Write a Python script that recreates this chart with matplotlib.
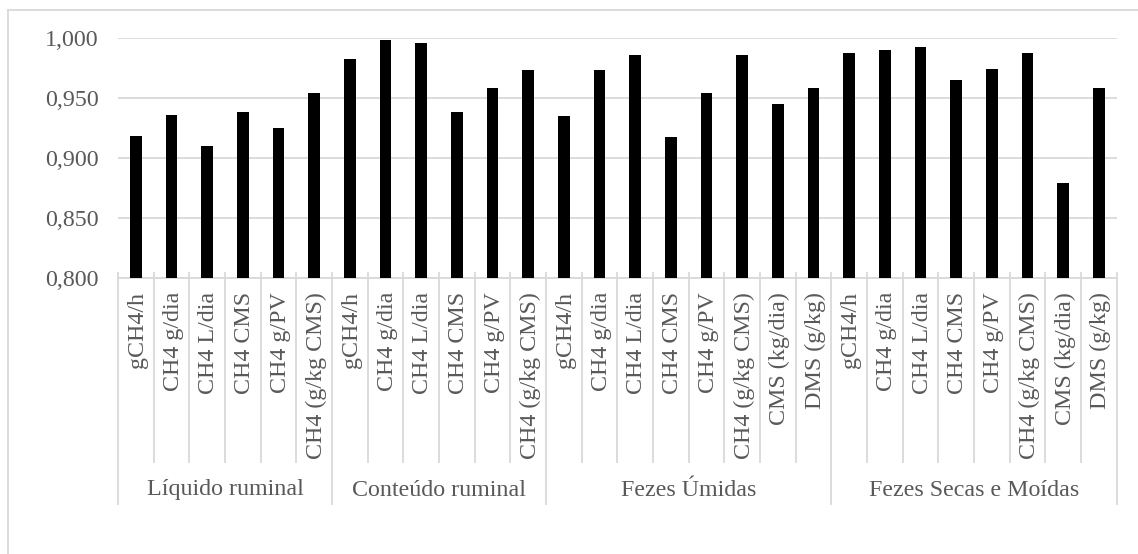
import numpy as np
import matplotlib
matplotlib.use("Agg")
import matplotlib.pyplot as plt
from matplotlib.lines import Line2D
from matplotlib.transforms import blended_transform_factory

groups = ["Líquido ruminal", "Conteúdo ruminal", "Fezes Úmidas", "Fezes Secas e Moídas"]
group_sizes = [6, 6, 8, 8]

labels = ["gCH4/h", "CH4 g/dia", "CH4 L/dia", "CH4 CMS", "CH4 g/PV", "CH4 (g/kg CMS)",
          "gCH4/h", "CH4 g/dia", "CH4 L/dia", "CH4 CMS", "CH4 g/PV", "CH4 (g/kg CMS)",
          "gCH4/h", "CH4 g/dia", "CH4 L/dia", "CH4 CMS", "CH4 g/PV", "CH4 (g/kg CMS)",
          "CMS (kg/dia)", "DMS (g/kg)",
          "gCH4/h", "CH4 g/dia", "CH4 L/dia", "CH4 CMS", "CH4 g/PV", "CH4 (g/kg CMS)",
          "CMS (kg/dia)", "DMS (g/kg)"]

values = [0.918, 0.936, 0.910, 0.938, 0.925, 0.954,
          0.982, 0.998, 0.996, 0.938, 0.958, 0.973,
          0.935, 0.973, 0.986, 0.917, 0.954, 0.986, 0.945, 0.958,
          0.987, 0.990, 0.992, 0.965, 0.974, 0.987, 0.879, 0.958]

yticks = [0.800, 0.850, 0.900, 0.950, 1.000]

W, H = 1138, 554
grey_txt = "#595959"
grey_line = "#d9d9d9"
fs = 17.3
plt.rcParams['font.family'] = ['Liberation Serif', 'DejaVu Serif']

fig = plt.figure(figsize=(W / 100, H / 100), dpi=100)
ax = fig.add_axes([118 / W, 1 - 278 / H, (1116.7 - 118) / W, (278 - 37.7) / H])

x = np.arange(len(values))
ax.bar(x, np.array(values) - 0.8, bottom=0.8, width=0.33, color="black", zorder=3)

ax.set_xlim(-0.5, len(values) - 0.5)
ax.set_ylim(0.8, 1.0)
ax.set_yticks(yticks)
ax.set_yticklabels([f"{v:.3f}".replace(".", ",") for v in yticks], color=grey_txt, fontsize=fs)
ax.tick_params(axis="y", length=0, pad=14)
ax.set_xticks([])
ax.grid(axis="y", color=grey_line, linewidth=1.3, zorder=0)
for s in ["top", "right", "left"]:
    ax.spines[s].set_visible(False)
ax.spines["bottom"].set_color(grey_line)
ax.spines["bottom"].set_linewidth(1.3)

tr = blended_transform_factory(ax.transData, fig.transFigure)
def fy(py):
    return 1 - py / H

# category boundary lines
starts = np.cumsum([0] + group_sizes)
for b in range(len(values) + 1):
    bottom = 504.3 if b in starts else 461.7
    ax.add_line(Line2D([b - 0.5, b - 0.5], [fy(272.7), fy(bottom)], transform=tr,
                       color=grey_line, linewidth=1.3, clip_on=False))

# rotated category labels
for i, lab in enumerate(labels):
    ax.text(i + 0.05, fy(292), lab, rotation=90, ha="center", va="top",
            transform=tr, color=grey_txt, fontsize=fs)

# group labels
for g, name in enumerate(groups):
    c = (starts[g] + starts[g + 1] - 1) / 2
    ax.text(c, fy(490), name, ha="center", va="center", transform=tr,
            color=grey_txt, fontsize=fs)

# outer chart border (cropped on right and bottom)
fig.add_artist(Line2D([8 / W, 1.0], [fy(10), fy(10)], color=grey_line, linewidth=1.3))
fig.add_artist(Line2D([8 / W, 8 / W], [fy(10), 0.0], color=grey_line, linewidth=1.3))

fig.savefig("out.png", dpi=100)
